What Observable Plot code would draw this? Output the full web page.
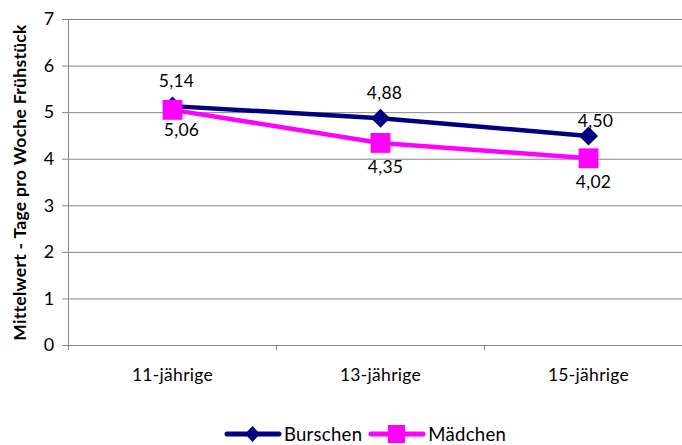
<!DOCTYPE html>
<html>
<head>
<meta charset="utf-8">
<script src="https://cdn.jsdelivr.net/npm/d3@7"></script>
<script src="https://cdn.jsdelivr.net/npm/@observablehq/plot@0.6"></script>
<style>
  body { margin: 0; background: #fff; font-family: Lato, "Open Sans", sans-serif; }
  #legend { display: flex; justify-content: center; align-items: center; margin-top: 13px; height: 22px; line-height: 22px; font-size: 18.5px; color: #000; padding-left: 48px; letter-spacing: 0.3px; }
  #legend .item { display: flex; align-items: center; margin: 0 3px; }
  #legend svg { margin-right: 2px; }
</style>
</head>
<body>
<div id="chart"></div>
<div id="legend"></div>
<script>
const categories = ["11-jährige", "13-jährige", "15-jährige"];
const seriesNames = ["Burschen", "Mädchen"];
const burschen = [5.14, 4.88, 4.50];
const maedchen = [5.06, 4.35, 4.02];
const yTicks = [0, 1, 2, 3, 4, 5, 6, 7];
const yTitle = "Mittelwert - Tage pro Woche Frühstück";
const colors = ["#000080", "#FF00FF"];

const fmt = v => v.toFixed(2).replace(".", ",");
const rows = [];
categories.forEach((c, i) => {
  rows.push({cat: c, series: seriesNames[0], value: burschen[i], idx: i});
  rows.push({cat: c, series: seriesNames[1], value: maedchen[i], idx: i});
});
const bRows = rows.filter(d => d.series === seriesNames[0]);
const mRows = rows.filter(d => d.series === seriesNames[1]);

const bw = 208;
const chart = Plot.plot({
  width: 682,
  height: 410,
  marginLeft: 68,
  marginRight: 0,
  marginTop: 19,
  marginBottom: 65,
  style: {fontFamily: "Lato, 'Open Sans', sans-serif", fontSize: "17px", color: "#000", background: "#fff", overflow: "visible", letterSpacing: "0.3px"},
  x: {type: "band", domain: categories, range: [68, 68 + 3 * bw], padding: 0},
  y: {domain: [0, 7], range: [345, 19]},
  color: {domain: seriesNames, range: colors},
  marks: [
    Plot.ruleY(yTicks, {stroke: "#868686", strokeWidth: 1}),
    Plot.ruleX(categories, {x: d => d, y1: 0, y2: -0.11, dx: -bw / 2, stroke: "#868686"}),
    Plot.ruleX([0], {x: () => categories[0], y1: -0.11, y2: 7, dx: -bw / 2, stroke: "#868686"}),
    Plot.axisY({ticks: yTicks, tickSize: 6, tickPadding: 8, stroke: "#868686", label: null, tickFormat: d => String(d), fontSize: 18}),
    Plot.axisX({tickSize: 0, tickPadding: 23, label: null, fontSize: 17.5}),
    Plot.text([yTitle], {frameAnchor: "left", rotate: -90, dx: -48, textAnchor: "middle", fontWeight: "bold", fontSize: 17.5, letterSpacing: "0px"}),
    Plot.line(rows, {x: "cat", y: "value", z: "series", stroke: "series", strokeWidth: 4.5}),
    Plot.dot(bRows, {x: "cat", y: "value", symbol: "diamond2", r: 8.6, fill: colors[0], stroke: null}),
    Plot.dot(mRows, {x: "cat", y: "value", symbol: "square", r: 11.2, fill: colors[1], stroke: null}),
    Plot.text(bRows.filter(d => d.idx < 2), {x: "cat", y: "value", text: d => fmt(d.value), dy: -25, dx: 4, fontSize: 17.5, fill: "#000"}),
    Plot.text(bRows.filter(d => d.idx === 2), {x: "cat", y: "value", text: d => fmt(d.value), dy: -15, dx: 7, fontSize: 17.5, fill: "#000"}),
    Plot.text(mRows.filter(d => d.idx === 0), {x: "cat", y: "value", text: d => fmt(d.value), dy: 21, dx: 9, fontSize: 17.5, fill: "#000"}),
    Plot.text(mRows.filter(d => d.idx > 0), {x: "cat", y: "value", text: d => fmt(d.value), dy: 24, dx: 5, fontSize: 17.5, fill: "#000"})
  ]
});
document.getElementById("chart").appendChild(chart);

const legend = document.getElementById("legend");
seriesNames.forEach((name, i) => {
  const item = document.createElement("div");
  item.className = "item";
  const marker = i === 0
    ? `<path d="M28.5,2 L36,10 L28.5,18 L21,10 Z" fill="${colors[0]}"/>`
    : `<rect x="20" y="1" width="17" height="18" fill="${colors[1]}"/>`;
  item.innerHTML = `<svg width="58" height="20"><line x1="3" y1="10" x2="55" y2="10" stroke="${colors[i]}" stroke-width="5" stroke-linecap="round"/>${marker}</svg><span>${name}</span>`;
  legend.appendChild(item);
});
</script>
</body>
</html>
